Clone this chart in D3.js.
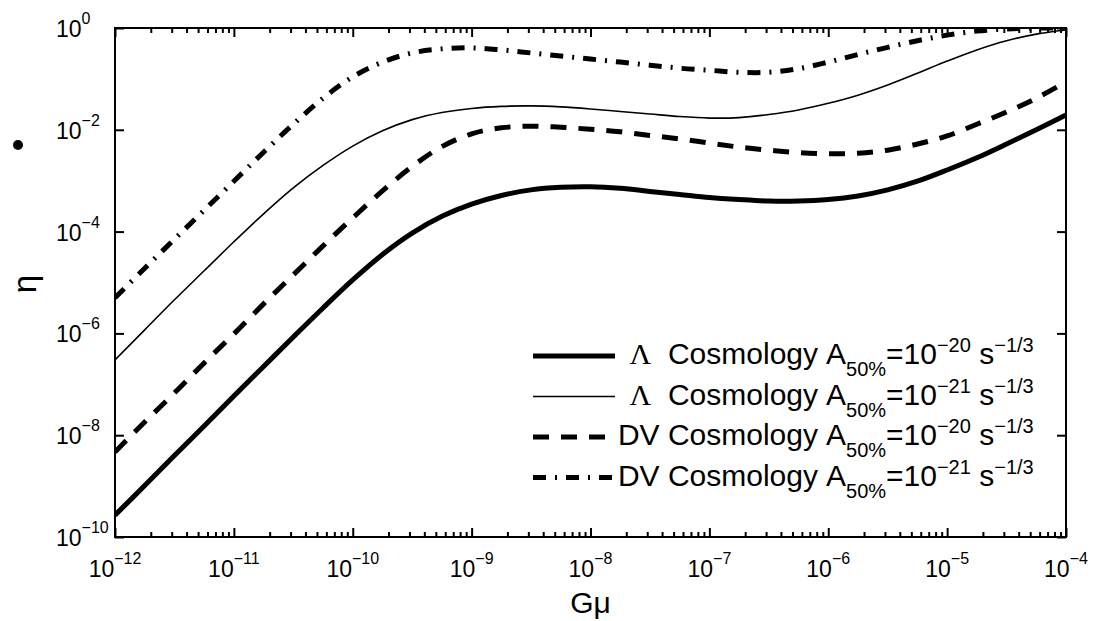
<!DOCTYPE html>
<html>
<head>
<meta charset="utf-8">
<script src="https://cdn.jsdelivr.net/npm/d3@7"></script>
<style>
  body { margin: 0; background: #fff; }
  text { font-family: "Liberation Sans", Arial, Helvetica, sans-serif; fill: #000; white-space: pre; }
</style>
</head>
<body>
<svg id="chart" width="1103" height="621"></svg>
<script>
// Gμ sample grid (log10), quarter-decade steps
const logGmu = [-12, -11.75, -11.5, -11.25, -11, -10.75, -10.5, -10.25, -10, -9.75, -9.5,
  -9.25, -9, -8.75, -8.5, -8.25, -8, -7.75, -7.5, -7.25, -7, -6.75, -6.5, -6.25, -6,
  -5.75, -5.5, -5.25, -5, -4.75, -4.5, -4.25, -4];

// log10(η) for each model on the grid above
const logEtaLambda20 = [-9.57, -8.99, -8.40, -7.82, -7.23, -6.65, -6.07, -5.50, -4.95, -4.45,
  -4.03, -3.70, -3.46, -3.29, -3.18, -3.13, -3.12, -3.15, -3.21, -3.27, -3.33, -3.37, -3.40,
  -3.40, -3.37, -3.30, -3.18, -3.01, -2.79, -2.55, -2.28, -2.00, -1.71];
const logEtaLambda21 = [-6.52, -5.93, -5.34, -4.77, -4.20, -3.65, -3.14, -2.70, -2.32, -2.02,
  -1.80, -1.66, -1.58, -1.54, -1.53, -1.55, -1.59, -1.64, -1.69, -1.74, -1.77, -1.76, -1.70,
  -1.61, -1.48, -1.32, -1.12, -0.89, -0.65, -0.43, -0.25, -0.12, -0.04];
const logEtaDV20 = [-8.33, -7.74, -7.17, -6.58, -6.01, -5.42, -4.85, -4.28, -3.73, -3.20,
  -2.72, -2.33, -2.08, -1.96, -1.93, -1.95, -1.99, -2.04, -2.11, -2.18, -2.26, -2.34, -2.40,
  -2.45, -2.47, -2.46, -2.40, -2.28, -2.12, -1.89, -1.65, -1.38, -1.06];
const logEtaDV21 = [-5.30, -4.72, -4.15, -3.58, -3.01, -2.44, -1.89, -1.38, -0.96, -0.67,
  -0.49, -0.41, -0.39, -0.43, -0.49, -0.55, -0.61, -0.67, -0.73, -0.79, -0.83, -0.87, -0.87,
  -0.80, -0.67, -0.52, -0.38, -0.25, -0.14, -0.06, -0.02, 0, 0];

// Tick exponents
const xTickExps = [-12, -11, -10, -9, -8, -7, -6, -5, -4];
const yTickExps = [0, -2, -4, -6, -8, -10];

// Legend entries
const seriesPrefix = ["Λ", "Λ", "DV", "DV"];
const seriesAmp = ["−20", "−21", "−20", "−21"];

const svg = d3.select("#chart");
const plot = { left: 115, right: 1066, top: 28, bottom: 537 };

const x = d3.scaleLog().domain([1e-12, 1e-4]).range([plot.left, plot.right]);
const y = d3.scaleLog().domain([1e-10, 1]).range([plot.bottom, plot.top]);

const styles = [
  { width: 5, dash: null },
  { width: 1.6, dash: null },
  { width: 5, dash: "16,12" },
  { width: 5, dash: "13,9,2,9" }
];
const seriesEta = [logEtaLambda20, logEtaLambda21, logEtaDV20, logEtaDV21];

svg.append("defs").append("clipPath").attr("id", "plotClip")
  .append("rect")
  .attr("x", plot.left).attr("y", plot.top)
  .attr("width", plot.right - plot.left).attr("height", plot.bottom - plot.top);

// Curves
const line = d3.line()
  .x(d => x(d[0]))
  .y(d => y(d[1]))
  .curve(d3.curveCatmullRom.alpha(0.5));

const curves = svg.append("g").attr("clip-path", "url(#plotClip)");
seriesEta.forEach((vals, i) => {
  const pts = logGmu.map((g, k) => [Math.pow(10, g), Math.pow(10, vals[k])]);
  curves.append("path")
    .attr("d", line(pts))
    .attr("fill", "none")
    .attr("stroke", "#000")
    .attr("stroke-width", styles[i].width)
    .attr("stroke-dasharray", styles[i].dash)
    .attr("stroke-linejoin", "round");
});

// Ticks (inward)
const xMajor = xTickExps.map(e => Math.pow(10, e));
const xMinor = [];
for (let e = -12; e < -4; e++) for (let m = 2; m <= 9; m++) xMinor.push(m * Math.pow(10, e));
const yMajor = yTickExps.map(e => Math.pow(10, e));

function ticks(axisFn, scale, values, size, transform) {
  const g = svg.append("g").attr("transform", transform)
    .call(axisFn(scale).tickValues(values).tickSizeInner(size).tickSizeOuter(0).tickFormat(""));
  g.select(".domain").remove();
  g.selectAll("text").remove();
  g.selectAll("line").attr("stroke", "#000").attr("stroke-width", 2);
}
ticks(d3.axisBottom, x, xMajor, -9, `translate(0,${plot.bottom})`);
ticks(d3.axisBottom, x, xMinor, -5, `translate(0,${plot.bottom})`);
ticks(d3.axisTop, x, xMajor, -9, `translate(0,${plot.top})`);
ticks(d3.axisTop, x, xMinor, -5, `translate(0,${plot.top})`);
ticks(d3.axisLeft, y, yMajor, -9, `translate(${plot.left},0)`);
ticks(d3.axisRight, y, yMajor, -9, `translate(${plot.right},0)`);

// Frame
svg.append("rect")
  .attr("x", plot.left).attr("y", plot.top)
  .attr("width", plot.right - plot.left).attr("height", plot.bottom - plot.top)
  .attr("fill", "none").attr("stroke", "#000").attr("stroke-width", 2);

const fmtExp = e => (e < 0 ? "−" + Math.abs(e) : String(e));

// X tick labels
xTickExps.forEach(e => {
  const t = svg.append("text")
    .attr("x", x(Math.pow(10, e))).attr("y", 577)
    .attr("text-anchor", "middle").attr("font-size", 23);
  t.append("tspan").text("10");
  t.append("tspan").attr("dy", -13).attr("font-size", 16).text(fmtExp(e));
});

// Y tick labels
yTickExps.forEach(e => {
  const t = svg.append("text")
    .attr("x", 56).attr("y", y(Math.pow(10, e)) + 9)
    .attr("font-size", 23);
  t.append("tspan").text("10");
  t.append("tspan").attr("dy", -13).attr("font-size", 16).text(fmtExp(e));
});

// Axis titles
svg.append("text")
  .attr("x", (plot.left + plot.right) / 2).attr("y", 613)
  .attr("text-anchor", "middle").attr("font-size", 30).text("Gμ");
svg.append("text")
  .attr("transform", "translate(36,284) rotate(-90)")
  .attr("text-anchor", "middle").attr("font-size", 33).text("η");
svg.append("circle").attr("cx", 18).attr("cy", 145).attr("r", 5).attr("fill", "#000");

// Legend
const legend = svg.append("g");
const rowY0 = 356, rowStep = 40.5;
const sampleX0 = 533, sampleX1 = 615;
const prefixEnd = 818, bodyX = 826;
seriesPrefix.forEach((p, i) => {
  const ly = rowY0 + i * rowStep;
  legend.append("line")
    .attr("x1", sampleX0).attr("x2", sampleX1).attr("y1", ly).attr("y2", ly)
    .attr("stroke", "#000").attr("stroke-width", styles[i].width)
    .attr("stroke-dasharray", styles[i].dash);

  const pre = legend.append("text")
    .attr("x", prefixEnd).attr("y", ly + 8)
    .attr("text-anchor", "end").attr("font-size", 30);
  if (p === "Λ") {
    pre.append("tspan").attr("font-family", "Liberation Serif, Times New Roman, serif").text("Λ");
    pre.append("tspan").text("  Cosmology");
  } else {
    pre.append("tspan").text("DV Cosmology");
  }

  const body = legend.append("text")
    .attr("x", bodyX).attr("y", ly + 8).attr("font-size", 30);
  body.append("tspan").text("A");
  body.append("tspan").attr("dy", 12).attr("font-size", 20).text("50%");
  body.append("tspan").attr("dy", -12).text("=10");
  body.append("tspan").attr("dy", -12).attr("font-size", 20).text(seriesAmp[i]);
  body.append("tspan").attr("dy", 12).text(" s");
  body.append("tspan").attr("dy", -12).attr("font-size", 20).text("−1/3");
});
</script>
</body>
</html>
